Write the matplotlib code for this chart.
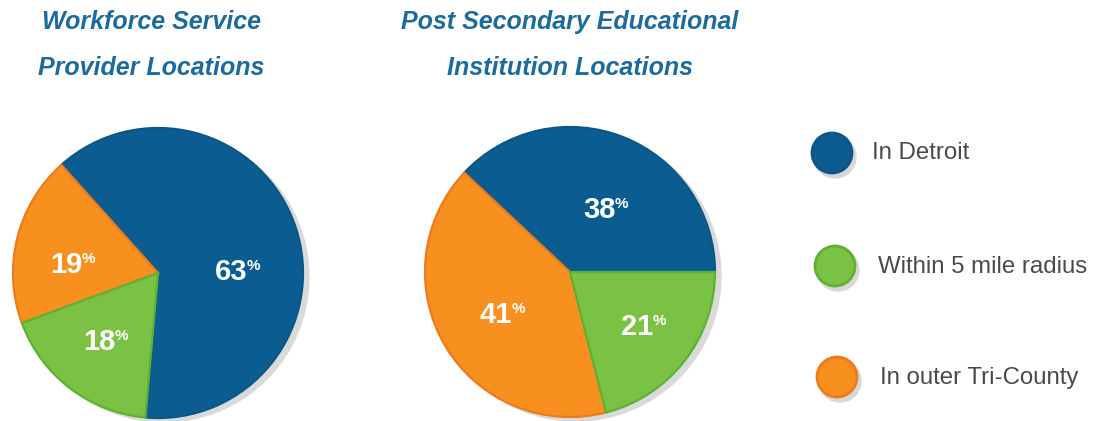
import matplotlib
matplotlib.use("Agg")
import matplotlib.pyplot as plt
from matplotlib.patches import Circle

# ---- data ----
categories = ["In Detroit", "Within 5 mile radius", "In outer Tri-County"]
workforce_pct = [63, 18, 19]
postsec_pct = [38, 21, 41]
titles = ["Workforce Service\nProvider Locations",
          "Post Secondary Educational\nInstitution Locations"]

# ---- style ----
fills = ["#0B5D91", "#7BC143", "#F7901E"]
edges = ["#0A5686", "#5DB233", "#EE7A1C"]
title_color = "#1C6B9E"
H = 421
W = 1094

fig = plt.figure(figsize=(W / 100, H / 100), dpi=100)
ax = fig.add_axes([0, 0, 1, 1])

order = [0, 2, 1]  # counter-clockwise drawing order: Detroit, Tri-County, 5 mile

pies = [
    dict(vals=workforce_pct, cx=158, cy=273, r=145, start=-95,
         labels=[(231, 272), (99, 342), (66, 265)]),
    dict(vals=postsec_pct, cx=570, cy=272, r=145, start=0,
         labels=[(599, 210), (637, 327), (496, 315)]),
]

for p in pies:
    cx, cy = p["cx"], H - p["cy"]
    ax.add_patch(Circle((cx + 6, cy - 4), p["r"], color="#DADADA", zorder=1))
    vals = [p["vals"][i] for i in order]
    wedges, _ = ax.pie(vals, center=(cx, cy), radius=p["r"],
                       startangle=p["start"], counterclock=True,
                       colors=[fills[i] for i in order],
                       wedgeprops=dict(linewidth=1.6))
    for w, i in zip(wedges, order):
        w.set_edgecolor(edges[i])
        w.set_zorder(2)
    for i, (lx, ly) in enumerate(p["labels"]):
        t = ax.text(lx, H - ly, str(p["vals"][i]), color="white",
                    fontsize=21, fontweight="bold", family="Liberation Sans",
                    ha="center", va="center", zorder=5)
        ax.annotate("%", xy=(0.98, 0.95), xycoords=t, color="white",
                    fontsize=11, fontweight="bold", family="Liberation Sans",
                    ha="left", va="top", zorder=5)

# titles
title_pos = [(151, 22, 68), (570, 22, 68)]
for (tx, y1, y2), ttl in zip(title_pos, titles):
    l1, l2 = ttl.split("\n")
    for line, yy in ((l1, y1), (l2, y2)):
        ax.text(tx, H - yy, line, color=title_color, fontsize=18,
                fontweight="bold", style="italic",
                family="Liberation Sans",
                ha="center", va="center")

# legend
leg_circles = [(832, 153), (835, 266), (837, 377)]
leg_text = [(872, 153), (878, 267), (880, 378)]
for i, cat in enumerate(categories):
    x, y = leg_circles[i]
    ax.add_patch(Circle((x + 3, H - y - 4), 21, color="#D8D8D8", zorder=1))
    ax.add_patch(Circle((x, H - y), 20, facecolor=fills[i], edgecolor=edges[i],
                        linewidth=2, zorder=2))
    tx, ty = leg_text[i]
    ax.text(tx, H - ty, cat, color="#4A4A4A", fontsize=17.3,
            family="Liberation Sans", ha="left", va="center")

ax.set_xlim(0, W)
ax.set_ylim(0, H)
ax.set_aspect("equal")
ax.axis("off")
fig.savefig("out.png", dpi=100)
